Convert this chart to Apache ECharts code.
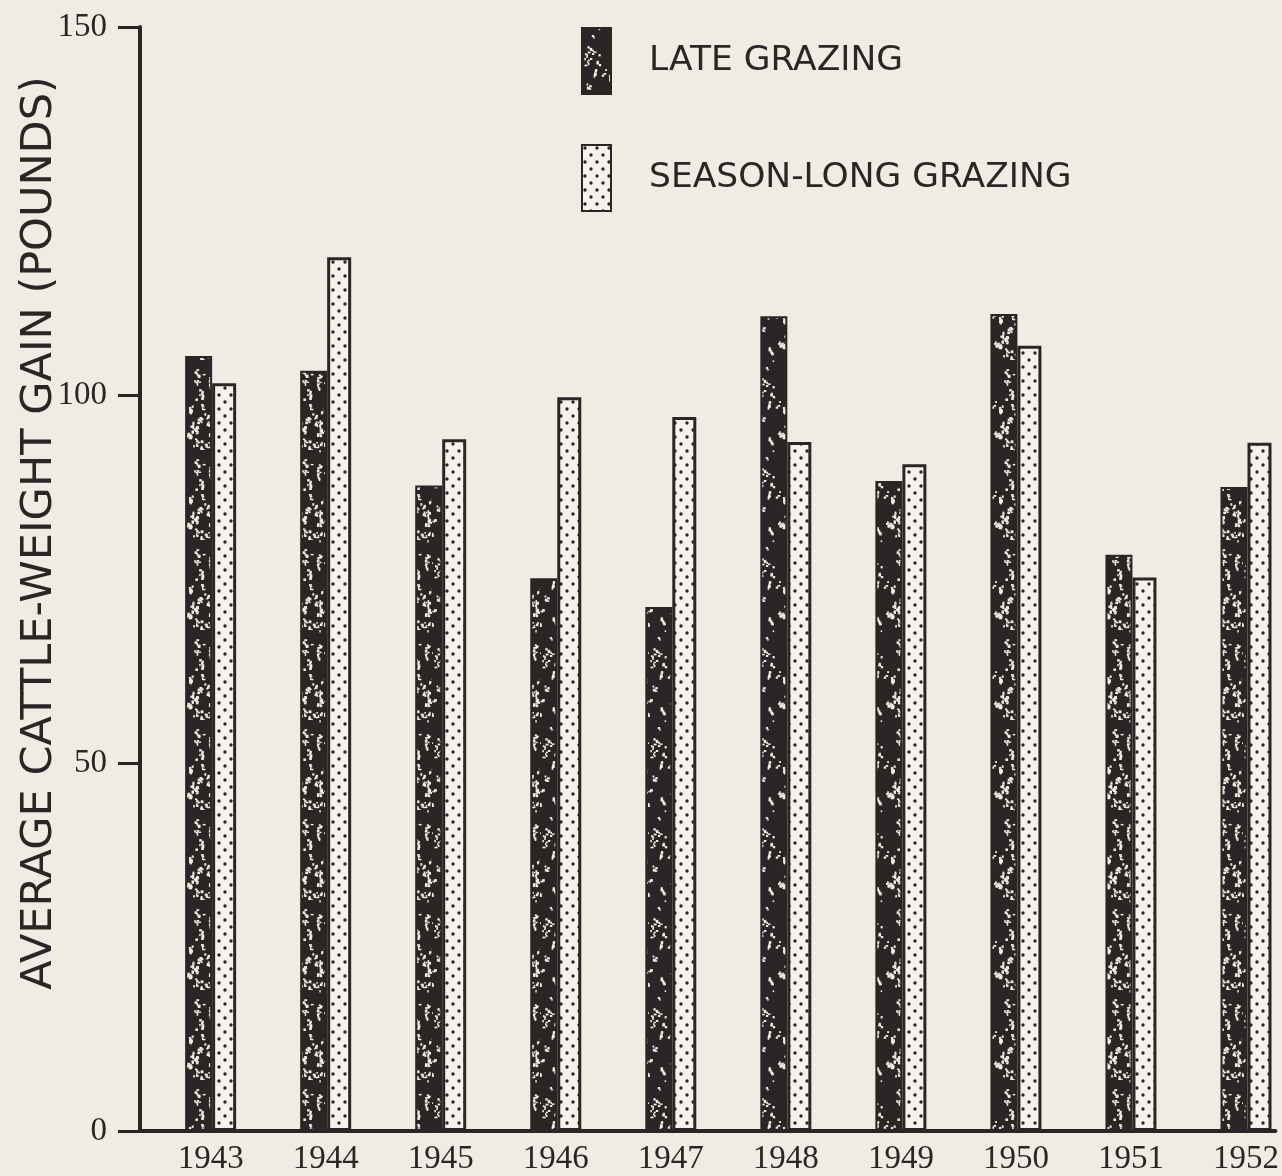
<!DOCTYPE html>
<html>
<head>
<meta charset="utf-8">
<script src="https://cdn.jsdelivr.net/npm/echarts@6/dist/echarts.min.js"></script>
<style>
  html, body { margin: 0; padding: 0; background: #f0ece4; }
  #chart { width: 1282px; height: 1176px; }
</style>
</head>
<body>
<div id="chart"></div>
<script>
// years on the x axis
const years = [1943, 1944, 1945, 1946, 1947, 1948, 1949, 1950, 1951, 1952]
// average cattle-weight gain, pounds
const lateGrazing = [105.3, 103.3, 87.7, 75.1, 71.2, 110.7, 88.3, 111, 78.3, 87.5]
const seasonLong = [101.6, 118.7, 94.0, 99.7, 97.0, 93.6, 90.6, 106.7, 75.2, 93.5]
const yTicks = [0, 50, 100, 150]

const ink = "#2a2626"
const paper = "#f0ece4"

// small deterministic generator, only used for the bar textures
let seed = 7
const rnd = () => {
  seed = (seed * 16807) % 2147483647
  return seed / 2147483647
}

// dark fill with white flecks
const makeSpeckle = () => {
  const c = document.createElement("canvas")
  c.width = 54
  c.height = 90
  const ctx = c.getContext("2d")
  ctx.fillStyle = ink
  ctx.fillRect(0, 0, c.width, c.height)
  ctx.fillStyle = "#f2eee6"
  for (let i = 0; i < 60; i++) {
    const x = rnd() * c.width
    const y = rnd() * c.height
    const n = 1 + Math.floor(rnd() * 5)
    for (let j = 0; j < n; j++) {
      ctx.fillRect(x + (rnd() - 0.5) * 4, y + j * 1.6, 1.4 + rnd() * 1.6, 1.4 + rnd() * 1.4)
    }
  }
  return c
}

// light fill with staggered black dots
const makeDots = () => {
  const c = document.createElement("canvas")
  c.width = 12
  c.height = 14
  const ctx = c.getContext("2d")
  ctx.fillStyle = "#f5f2ec"
  ctx.fillRect(0, 0, c.width, c.height)
  ctx.fillStyle = ink
  ctx.beginPath()
  ctx.arc(3, 3, 1.7, 0, Math.PI * 2)
  ctx.arc(9, 10, 1.7, 0, Math.PI * 2)
  ctx.fill()
  return c
}

const chart = echarts.init(document.getElementById("chart"))

const option = {
  backgroundColor: paper,
  animation: false,
  grid: {
    left: 140,
    right: 0,
    top: 27,
    bottom: 42,
  },
  legend: {
    orient: "vertical",
    left: 581,
    top: 27,
    padding: 0,
    itemWidth: 29,
    itemHeight: 66,
    itemGap: 49,
    icon: "rect",
    textStyle: {
      fontFamily: "DejaVu Sans",
      fontSize: 34.5,
      color: ink,
      padding: [8, 0, 0, 33],
    },
  },
  graphic: [
    {
      type: "text",
      x: 40,
      y: 533,
      rotation: Math.PI / 2,
      style: {
        text: "AVERAGE CATTLE-WEIGHT GAIN (POUNDS)",
        fontFamily: "DejaVu Sans",
        fontSize: 43,
        fill: ink,
        align: "center",
        verticalAlign: "middle",
      },
    },
  ],
  xAxis: {
    type: "value",
    min: 1942.386,
    max: 1952.256,
    splitLine: { show: false },
    axisLine: { lineStyle: { color: ink, width: 4 } },
    axisTick: { show: false },
    axisLabel: {
      customValues: years,
      formatter: (v) => String(v),
      fontFamily: "Liberation Serif",
      fontSize: 33,
      color: ink,
      margin: 12,
    },
  },
  yAxis: {
    type: "value",
    min: 0,
    max: 150,
    interval: 50,
    splitLine: { show: false },
    axisLine: { show: true, lineStyle: { color: ink, width: 4 } },
    axisTick: { show: true, length: 22, lineStyle: { color: ink, width: 3 } },
    axisLabel: {
      customValues: yTicks,
      fontFamily: "Liberation Serif",
      fontSize: 33,
      color: ink,
      margin: 33,
    },
  },
  series: [
    {
      name: "LATE GRAZING",
      type: "bar",
      barWidth: 27,
      barGap: "0%",
      itemStyle: {
        color: { image: makeSpeckle(), repeat: "repeat" },
        borderColor: ink,
        borderWidth: 2,
      },
      data: years.map((y, i) => [y, lateGrazing[i]]),
    },
    {
      name: "SEASON-LONG GRAZING",
      type: "bar",
      barWidth: 24,
      barGap: "0%",
      itemStyle: {
        color: { image: makeDots(), repeat: "repeat" },
        borderColor: ink,
        borderWidth: 3,
      },
      data: years.map((y, i) => [y, seasonLong[i]]),
    },
  ],
}
chart.setOption(option)
</script>
</body>
</html>
